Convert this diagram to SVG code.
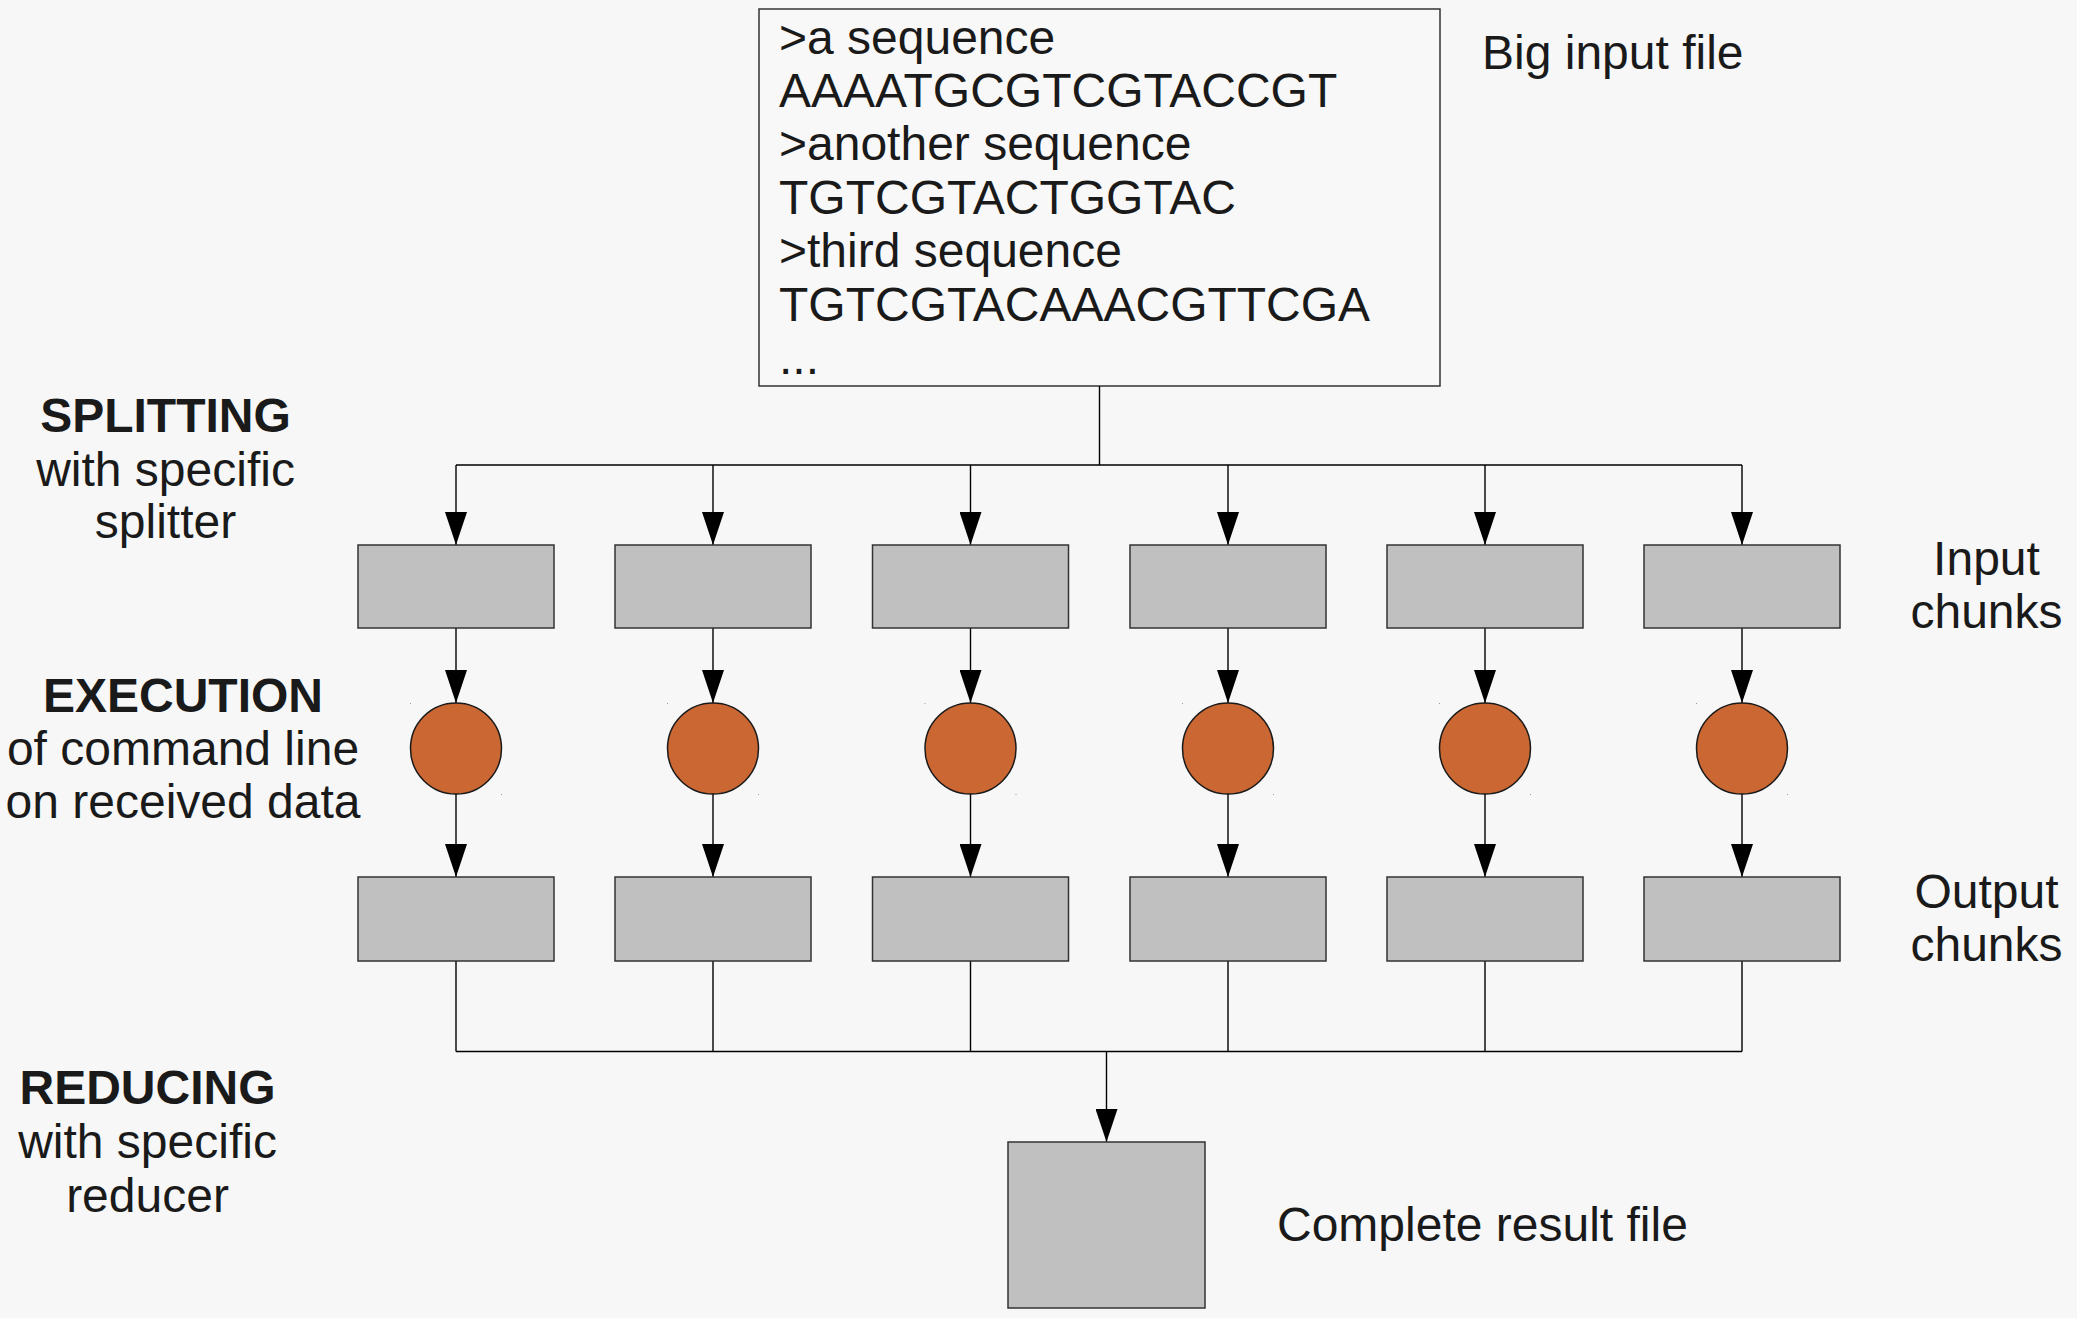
<svg xmlns="http://www.w3.org/2000/svg" width="2077" height="1318" viewBox="0 0 2077 1318">
<defs>
<style>
text{font-family:"Liberation Sans",Arial,sans-serif;font-size:48px;fill:#1a1a1a}
.b{font-weight:bold}
.m{text-anchor:middle}
.chunk{fill:#c0c0c0;stroke:#333;stroke-width:1.5}
.exec{fill:#cb6733;stroke:#1a1a1a;stroke-width:1.5}
.file{fill:#f8f8f8;stroke:#333;stroke-width:1.5}
.ln{fill:none;stroke:#000;stroke-width:1.4}
.dot{fill:#999}
</style>
<marker id="ah" markerUnits="userSpaceOnUse" viewBox="0 0 33 22" markerWidth="33" markerHeight="22" refX="33" refY="11" orient="auto">
<path d="M0,0 L33,11 L0,22 Z" fill="#000"/>
</marker>
</defs>
<rect width="2077" height="1318" fill="#f7f7f7"/>

<g id="input-file">
<rect class="file" x="759" y="9" width="681" height="377"/>
<text x="779" y="53.5">&gt;a sequence</text>
<text x="779" y="107">AAAATGCGTCGTACCGT</text>
<text x="779" y="160">&gt;another sequence</text>
<text x="779" y="213.5">TGTCGTACTGGTAC</text>
<text x="779" y="267">&gt;third sequence</text>
<text x="779" y="320.5">TGTCGTACAAACGTTCGA</text>
<text x="779" y="374">...</text>
</g>
<g id="label-big-input"><text x="1482" y="69">Big input file</text></g>

<g id="connectors">
<path class="ln" d="M1099.5,386 V465 M456,465 H1742"/>
<path class="ln" marker-end="url(#ah)" d="M456,465 V545"/>
<path class="ln" marker-end="url(#ah)" d="M713,465 V545"/>
<path class="ln" marker-end="url(#ah)" d="M970.5,465 V545"/>
<path class="ln" marker-end="url(#ah)" d="M1228,465 V545"/>
<path class="ln" marker-end="url(#ah)" d="M1485,465 V545"/>
<path class="ln" marker-end="url(#ah)" d="M1742,465 V545"/>

<path class="ln" marker-end="url(#ah)" d="M456,628 V703"/>
<path class="ln" marker-end="url(#ah)" d="M713,628 V703"/>
<path class="ln" marker-end="url(#ah)" d="M970.5,628 V703"/>
<path class="ln" marker-end="url(#ah)" d="M1228,628 V703"/>
<path class="ln" marker-end="url(#ah)" d="M1485,628 V703"/>
<path class="ln" marker-end="url(#ah)" d="M1742,628 V703"/>

<path class="ln" marker-end="url(#ah)" d="M456,794 V877"/>
<path class="ln" marker-end="url(#ah)" d="M713,794 V877"/>
<path class="ln" marker-end="url(#ah)" d="M970.5,794 V877"/>
<path class="ln" marker-end="url(#ah)" d="M1228,794 V877"/>
<path class="ln" marker-end="url(#ah)" d="M1485,794 V877"/>
<path class="ln" marker-end="url(#ah)" d="M1742,794 V877"/>

<path class="ln" d="M456,961 V1051.5 M713,961 V1051.5 M970.5,961 V1051.5 M1228,961 V1051.5 M1485,961 V1051.5 M1742,961 V1051.5 M456,1051.5 H1742"/>
<path class="ln" marker-end="url(#ah)" d="M1106.5,1051.5 V1142"/>
</g>

<g id="input-chunks">
<rect class="chunk" x="358" y="545" width="196" height="83"/>
<rect class="chunk" x="615" y="545" width="196" height="83"/>
<rect class="chunk" x="872.5" y="545" width="196" height="83"/>
<rect class="chunk" x="1130" y="545" width="196" height="83"/>
<rect class="chunk" x="1387" y="545" width="196" height="83"/>
<rect class="chunk" x="1644" y="545" width="196" height="83"/>
</g>

<g id="executions">
<circle class="exec" cx="456" cy="748.5" r="45.5"/>
<circle class="exec" cx="713" cy="748.5" r="45.5"/>
<circle class="exec" cx="970.5" cy="748.5" r="45.5"/>
<circle class="exec" cx="1228" cy="748.5" r="45.5"/>
<circle class="exec" cx="1485" cy="748.5" r="45.5"/>
<circle class="exec" cx="1742" cy="748.5" r="45.5"/>
<rect class="dot" x="410" y="703" width="1" height="1"/><rect class="dot" x="501" y="794" width="1" height="1"/>
<rect class="dot" x="667" y="703" width="1" height="1"/><rect class="dot" x="758" y="794" width="1" height="1"/>
<rect class="dot" x="924.5" y="703" width="1" height="1"/><rect class="dot" x="1015.5" y="794" width="1" height="1"/>
<rect class="dot" x="1182" y="703" width="1" height="1"/><rect class="dot" x="1273" y="794" width="1" height="1"/>
<rect class="dot" x="1439" y="703" width="1" height="1"/><rect class="dot" x="1530" y="794" width="1" height="1"/>
<rect class="dot" x="1696" y="703" width="1" height="1"/><rect class="dot" x="1787" y="794" width="1" height="1"/>
</g>

<g id="output-chunks">
<rect class="chunk" x="358" y="877" width="196" height="84"/>
<rect class="chunk" x="615" y="877" width="196" height="84"/>
<rect class="chunk" x="872.5" y="877" width="196" height="84"/>
<rect class="chunk" x="1130" y="877" width="196" height="84"/>
<rect class="chunk" x="1387" y="877" width="196" height="84"/>
<rect class="chunk" x="1644" y="877" width="196" height="84"/>
</g>

<g id="result-file">
<rect class="chunk" x="1008" y="1142" width="197" height="166"/>
</g>
<g id="label-result"><text x="1277" y="1241">Complete result file</text></g>

<g id="label-input-chunks">
<text class="m" x="1986.5" y="575">Input</text>
<text class="m" x="1986.5" y="628">chunks</text>
</g>
<g id="label-output-chunks">
<text class="m" x="1986.5" y="908">Output</text>
<text class="m" x="1986.5" y="961">chunks</text>
</g>

<g id="label-splitting">
<text class="m b" x="165.5" y="432">SPLITTING</text>
<text class="m" x="165.5" y="486">with specific</text>
<text class="m" x="165.5" y="538">splitter</text>
</g>
<g id="label-execution">
<text class="m b" x="183" y="711.5">EXECUTION</text>
<text class="m" x="183" y="765">of command line</text>
<text class="m" x="183" y="818">on received data</text>
</g>
<g id="label-reducing">
<text class="m b" x="147.5" y="1104">REDUCING</text>
<text class="m" x="147.5" y="1158">with specific</text>
<text class="m" x="147.5" y="1211.5">reducer</text>
</g>
</svg>
